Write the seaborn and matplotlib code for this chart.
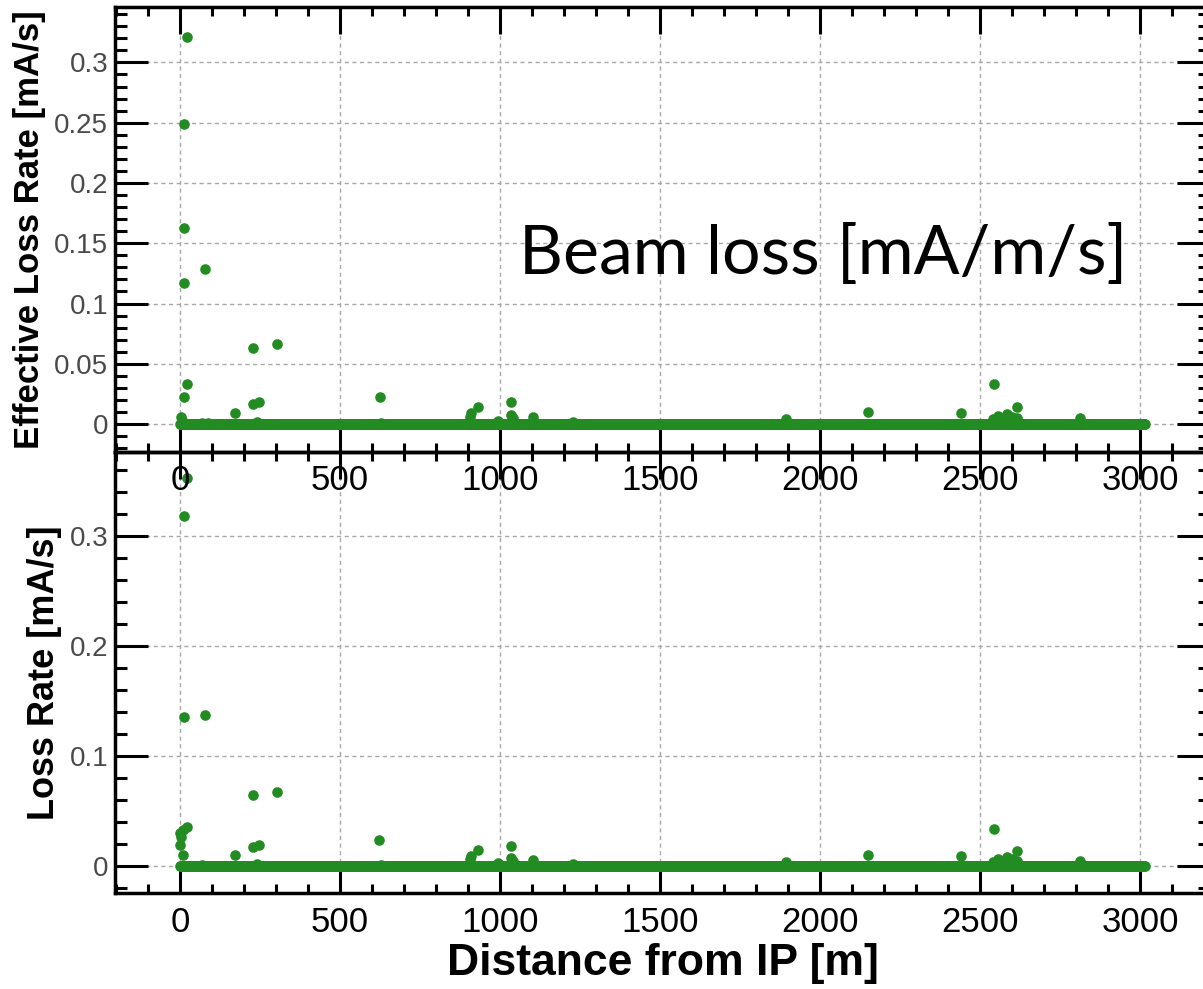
import numpy as np
import pandas as pd
import matplotlib
matplotlib.use("Agg")
import matplotlib.pyplot as plt
from matplotlib.ticker import MultipleLocator, FixedLocator, FuncFormatter
import seaborn as sns

# ---- data ---------------------------------------------------------------
ring_length = 3016.0          # m, ring circumference
sample_step = 2.0             # m, spacing of the loss samples around the ring

# non-zero effective loss rate [mA/s] (top panel)
eff_s = [2, 5, 13, 13, 13, 21, 13, 22, 70, 79, 88, 172, 229, 229, 240, 248,
         304, 625, 627, 905, 908, 932, 995, 1033, 1035, 1040, 1104, 1229,
         1894, 2149, 2441, 2542, 2545, 2557, 2570, 2585, 2600, 2615, 2615, 2812]
eff_rate = [0.006, 0.003, 0.117, 0.163, 0.249, 0.321, 0.0227, 0.0335, 0.001,
            0.129, 0.001, 0.0095, 0.0628, 0.0166, 0.002, 0.018, 0.0661, 0.0227,
            0.001, 0.006, 0.009, 0.0144, 0.0025, 0.0185, 0.0075, 0.005, 0.0055,
            0.002, 0.004, 0.0102, 0.0089, 0.004, 0.0335, 0.0066, 0.005, 0.0083,
            0.006, 0.0138, 0.005, 0.0047]

# non-zero loss rate [mA/s] (bottom panel)
loss_s = [0, 0, 4, 8, 8, 13, 13, 21, 23, 70, 79, 172, 229, 229, 240, 248, 304,
          623, 627, 905, 908, 932, 995, 1033, 1035, 1040, 1104, 1229, 1894,
          2149, 2441, 2542, 2545, 2557, 2570, 2585, 2600, 2615, 2615, 2812]
loss_rate = [0.019, 0.030, 0.0267, 0.010, 0.0327, 0.1357, 0.3176, 0.352, 0.0358,
             0.001, 0.137, 0.010, 0.0645, 0.017, 0.002, 0.019, 0.0676, 0.0236,
             0.001, 0.006, 0.009, 0.0144, 0.0025, 0.0185, 0.0075, 0.005, 0.0055,
             0.002, 0.004, 0.0102, 0.0089, 0.004, 0.0335, 0.0066, 0.005, 0.0083,
             0.006, 0.0138, 0.005, 0.0047]

eff_yticks = [0, 0.05, 0.1, 0.15, 0.2, 0.25, 0.3]
loss_yticks = [0, 0.1, 0.2, 0.3]
x_ticks = [0, 500, 1000, 1500, 2000, 2500, 3000]

# ---- build tables -------------------------------------------------------
s_grid = np.arange(0.0, ring_length + sample_step / 2, sample_step)
base = pd.DataFrame({"s": s_grid, "rate": np.zeros_like(s_grid)})
df_eff = pd.concat([base, pd.DataFrame({"s": eff_s, "rate": eff_rate})],
                   ignore_index=True)
df_loss = pd.concat([base, pd.DataFrame({"s": loss_s, "rate": loss_rate})],
                    ignore_index=True)

# ---- style --------------------------------------------------------------
sns.set_style("white")
plt.rcParams["font.family"] = ["Liberation Sans", "DejaVu Sans"]
plt.rcParams["text.color"] = "black"
plt.rcParams["axes.labelcolor"] = "black"

GREEN = "#228b22"
W, H = 1203, 989
fig = plt.figure(figsize=(W / 100, H / 100), dpi=100)
left, right = 115, 1210
ax1 = fig.add_axes([left / W, (H - 452) / H, (right - left) / W, (452 - 7) / H])
ax2 = fig.add_axes([left / W, (H - 893) / H, (right - left) / W, (893 - 452) / H])
ax1.set_zorder(3)
ax1.patch.set_visible(False)

sns.scatterplot(data=df_eff, x="s", y="rate", ax=ax1, color=GREEN, s=58,
                linewidth=0, legend=False, zorder=4)
sns.scatterplot(data=df_loss, x="s", y="rate", ax=ax2, color=GREEN, s=58,
                linewidth=0, legend=False, zorder=4)

xlim = (-203, 3219)
ax1.set_xlim(*xlim)
ax2.set_xlim(*xlim)
ax1.set_ylim(-0.0232, 0.346)
ax2.set_ylim(-0.0245, 0.376)

fmt = FuncFormatter(lambda v, p: f"{v:g}")
for ax, yt, ymin in ((ax1, eff_yticks, 0.01), (ax2, loss_yticks, 0.02)):
    ax.xaxis.set_major_locator(FixedLocator(x_ticks))
    ax.xaxis.set_minor_locator(MultipleLocator(100))
    ax.yaxis.set_major_locator(FixedLocator(yt))
    ax.yaxis.set_minor_locator(MultipleLocator(ymin))
    ax.yaxis.set_major_formatter(fmt)
    ax.grid(True, which="major", color="#a8a8a8", linewidth=1.0,
            linestyle=(0, (3, 2.5)), zorder=1)
    ax.tick_params(which="both", direction="in", bottom=True, top=True,
                   left=True, right=True, width=2.2, color="black")
    ax.tick_params(axis="x", which="major", length=19.5, pad=9,
                   labelsize=25, labelcolor="black")
    ax.tick_params(axis="x", which="minor", length=6.5)
    ax.tick_params(axis="y", which="major", length=24, pad=5,
                   labelsize=20, labelcolor="#4a4a4a")
    ax.tick_params(axis="y", which="minor", length=8.6)
    for sp in ax.spines.values():
        sp.set_visible(True)
        sp.set_linewidth(2.5)
        sp.set_color("black")
    ax.set_axisbelow(True)

ax1.set_xlabel("")
ax1.set_ylabel("Effective Loss Rate [mA/s]", fontsize=25, fontweight="bold",
               va="center", color="black")
ax1.yaxis.set_label_coords((30 - left) / (right - left), 0.5)

ax2.set_ylabel("Loss Rate [mA/s]", fontsize=26, fontweight="bold", va="center",
               color="black")
ax2.yaxis.set_label_coords((45 - left) / (right - left), 0.5)
ax2.set_xlabel("Distance from IP [m]", fontsize=32, fontweight="bold",
               va="center", color="black")
ax2.xaxis.set_label_coords(0.5, (893 - 963) / (893 - 452))

ax1.text((823 - left) / (right - left), (452 - 255) / 445, "Beam loss [mA/m/s]",
         transform=ax1.transAxes, ha="center", va="center", fontsize=49,
         color="black", family=["Lato", "DejaVu Sans"], zorder=5)

fig.savefig("out.png", dpi=100)
